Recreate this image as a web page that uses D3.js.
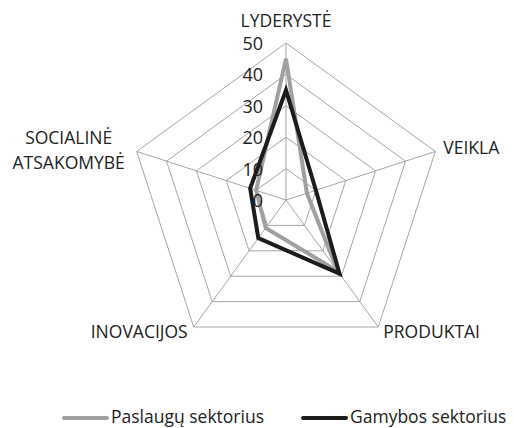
<!DOCTYPE html>
<html>
<head>
<meta charset="utf-8">
<script src="https://cdn.jsdelivr.net/npm/d3@7"></script>
<style>
  body { margin: 0; background: #fff; }
  svg { display: block; font-family: "Open Sans", sans-serif; }
</style>
</head>
<body>
<script>
const categories = ["LYDERYSTĖ", "VEIKLA", "PRODUKTAI", "INOVACIJOS", "SOCIALINĖ ATSAKOMYBĖ"];
const paslaugu = [45, 7, 28, 11, 10];
const gamybos = [35, 10, 29, 15, 12];
const ticks = [0, 10, 20, 30, 40, 50];
const seriesNames = ["Paslaugų sektorius", "Gamybos sektorius"];

const width = 514, height = 428;
const cx = 286, cy = 200, R = 157;

const svg = d3.select("body").append("svg")
  .attr("width", width)
  .attr("height", height);

const r = d3.scaleLinear().domain([0, 50]).range([0, R]);
const angle = d3.scaleLinear().domain([0, categories.length]).range([0, 2 * Math.PI]);

const pt = (i, v) => [cx + r(v) * Math.sin(angle(i)), cy - r(v) * Math.cos(angle(i))];

const g = svg.append("g");

// rings
ticks.filter(t => t > 0).forEach(t => {
  g.append("path")
    .attr("d", d3.line()(categories.map((c, i) => pt(i, t))) + "Z")
    .attr("fill", "none")
    .attr("stroke", "#a6a6a6")
    .attr("stroke-width", 1);
});

// spokes
categories.forEach((c, i) => {
  const [x, y] = pt(i, 50);
  g.append("line")
    .attr("x1", cx).attr("y1", cy)
    .attr("x2", x).attr("y2", y)
    .attr("stroke", "#a6a6a6")
    .attr("stroke-width", 1);
});

// series
const series = [
  { name: seriesNames[0], values: paslaugu, color: "#a0a0a0" },
  { name: seriesNames[1], values: gamybos, color: "#1c1c1c" }
];
series.forEach(s => {
  g.append("path")
    .attr("d", d3.line()(s.values.map((v, i) => pt(i, v))) + "Z")
    .attr("fill", "none")
    .attr("stroke", s.color)
    .attr("stroke-width", 4)
    .attr("stroke-linejoin", "miter");
});

// tick labels
g.selectAll("text.tick")
  .data(ticks)
  .join("text")
  .attr("class", "tick")
  .attr("x", cx - 23)
  .attr("y", d => cy - r(d) + 7)
  .attr("text-anchor", "end")
  .attr("font-size", 18)
  .attr("fill", "#222")
  .text(d => d);

// category labels
const labelPos = [
  { dx: 0, dy: -16, anchor: "middle" },
  { dx: 8, dy: 3, anchor: "start" },
  { dx: 5, dy: 11, anchor: "start" },
  { dx: -6, dy: 11, anchor: "end" },
  { dx: -68, dy: -7, anchor: "middle" }
];
categories.forEach((c, i) => {
  const [x, y] = pt(i, 50);
  const p = labelPos[i];
  const words = i === 4 ? c.split(" ") : [c];
  const t = svg.append("text")
    .attr("x", x + p.dx)
    .attr("y", y + p.dy)
    .attr("text-anchor", p.anchor)
    .attr("font-size", 17.5)
    .attr("fill", "#222");
  words.forEach((w, k) => {
    t.append("tspan")
      .attr("x", x + p.dx)
      .attr("dy", k === 0 ? 0 : 25)
      .text(w);
  });
});

// legend
const legendX = [64, 303];
series.forEach((s, i) => {
  const lg = svg.append("g").attr("transform", `translate(${legendX[i]},418)`);
  lg.append("line")
    .attr("x1", 0).attr("x2", 43)
    .attr("stroke", s.color)
    .attr("stroke-width", 4)
    .attr("stroke-linecap", "round");
  lg.append("text")
    .attr("x", 47)
    .attr("y", 5)
    .attr("font-size", 17.5)
    .attr("fill", "#222")
    .text(s.name);
});
</script>
</body>
</html>
